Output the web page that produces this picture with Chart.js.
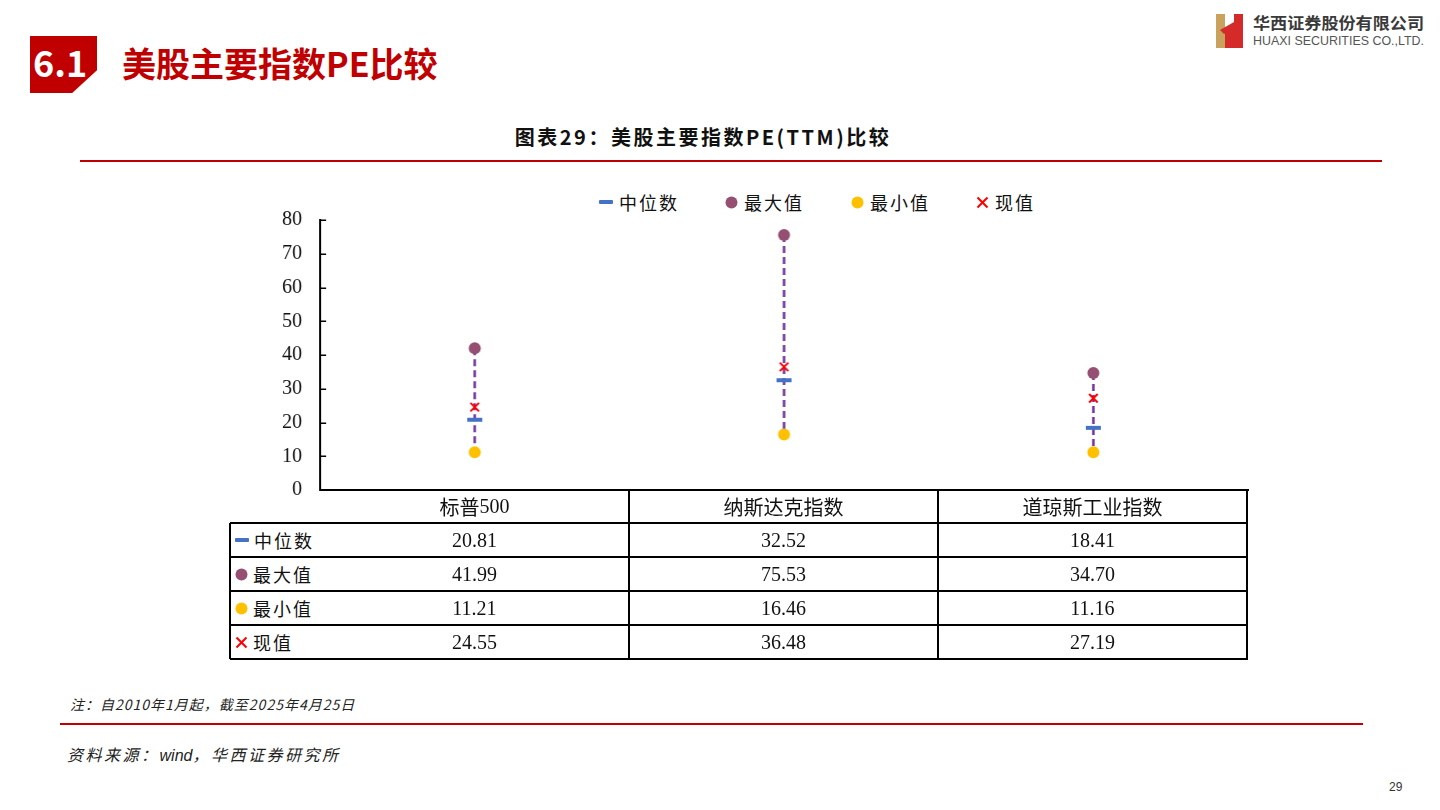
<!DOCTYPE html>
<html><head><meta charset="utf-8">
<script src="https://cdn.jsdelivr.net/npm/chart.js@4.4.0/dist/chart.umd.min.js"></script>
<style>
html,body{margin:0;padding:0;background:#fff;}
body{width:1440px;height:810px;position:relative;overflow:hidden;font-family:"Noto Sans CJK SC","Noto Sans",sans-serif;color:#111;}
.abs{position:absolute;white-space:nowrap;}
.hl{position:absolute;background:#000;height:1.5px;}
.vl{position:absolute;background:#000;width:1.5px;}
.cell{position:absolute;display:flex;align-items:center;justify-content:center;font-family:"Liberation Serif","Noto Sans CJK SC",serif;font-size:20px;color:#111;white-space:nowrap;}
.ser{font-family:"Liberation Serif",serif;}
.lab{position:absolute;display:flex;align-items:center;font-size:18px;letter-spacing:2px;color:#111;white-space:nowrap;}
#box{position:absolute;}
</style></head><body>

<!-- header -->
<div class="abs" style="left:30px;top:36px;width:67px;height:57px;background:#C00000;clip-path:polygon(0 0,100% 0,100% 60%,63% 100%,0 100%);"></div>
<div class="abs" style="left:33px;top:36px;height:50px;line-height:50px;font-size:36px;font-weight:700;color:#fff;">6.1</div>
<div class="abs" style="left:122px;top:38px;height:50px;line-height:50px;font-size:34px;font-weight:700;color:#C00000;">美股主要指数PE比较</div>

<!-- logo -->
<svg class="abs" style="left:1212px;top:8px;" width="220" height="44" viewBox="0 0 220 44">
  <polygon points="4,6 13,6 13,40 4,40" fill="#C9A25E"/>
  <polygon points="13,22 22,17 22,40 13,40" fill="#D42A2A"/>
  <polygon points="22,6 31,6 31,40 22,40" fill="#D42A2A"/>
  <polygon points="8,22 22,14 22,20 12,26" fill="#D42A2A"/>
  <text x="41" y="21" font-family="Noto Sans CJK SC" font-weight="700" font-size="16" fill="#3a3a3a" textLength="171" lengthAdjust="spacingAndGlyphs">华西证券股份有限公司</text>
  <text x="41" y="37" font-family="Liberation Sans" font-size="13" fill="#555" textLength="171" lengthAdjust="spacingAndGlyphs">HUAXI SECURITIES CO.,LTD.</text>
</svg>

<!-- chart title -->
<div class="abs" style="left:403px;width:600px;top:122px;height:30px;line-height:30px;text-align:center;font-size:20px;font-weight:700;letter-spacing:2.5px;color:#111;">图表29：美股主要指数PE(TTM)比较</div>
<div class="abs" style="left:80px;top:160px;width:1302px;height:1.5px;background:#C00000;"></div>

<!-- legend -->
<div id="legend"></div>

<div id="box" style="left:220px;top:208px;width:1027px;height:302px;">
  <canvas id="c"></canvas>
</div>
<div id="table"></div>

<!-- footer -->
<div class="abs" style="left:70px;top:694px;height:20px;line-height:20px;font-size:14px;font-style:italic;letter-spacing:1px;color:#222;">注：自2010年1月起，截至2025年4月25日</div>
<div class="abs" style="left:60px;top:723px;width:1303px;height:1.5px;background:#C00000;"></div>
<div class="abs" style="left:67px;top:743px;height:22px;line-height:22px;font-size:16px;font-style:italic;letter-spacing:2.5px;color:#222;">资料来源：<span style="font-family:'Liberation Sans';letter-spacing:0;">wind</span>，华西证券研究所</div>
<div class="abs" style="left:1389px;top:779px;height:16px;line-height:16px;font-size:12px;font-family:'Liberation Sans';color:#333;">29</div>

<script>
// ---- data ----
const categories = ['标普500', '纳斯达克指数', '道琼斯工业指数'];
const seriesNames = ['中位数', '最大值', '最小值', '现值'];
const medianPE = [20.81, 32.52, 18.41];
const maxPE = [41.99, 75.53, 34.70];
const minPE = [11.21, 16.46, 11.16];
const currentPE = [24.55, 36.48, 27.19];
const yTickValues = [0, 10, 20, 30, 40, 50, 60, 70, 80];

const colors = {median:'#4472C4', max:'#954F72', min:'#FFC000', cur:'#FF0000', range:'#7030A0'};
const pts = arr => arr.map((v, i) => ({x: i, y: v}));

const rangeSets = categories.map((c, i) => ({
  label: 'range' + i,
  data: [{x: i, y: maxPE[i]}, {x: i, y: minPE[i]}],
  showLine: true, borderColor: colors.range, borderWidth: 2.5, borderDash: [7, 4],
  pointRadius: 0, order: 10
}));

const innerTicks = {
  id: 'innerTicks',
  afterDraw(chart) {
    const y = chart.scales.y, ctx = chart.ctx, x0 = chart.chartArea.left;
    ctx.save(); ctx.strokeStyle = '#000'; ctx.lineWidth = 1.5;
    yTickValues.forEach(v => {
      const py = Math.round(y.getPixelForValue(v)) + 0.25;
      ctx.beginPath(); ctx.moveTo(x0, py); ctx.lineTo(x0 + 6, py); ctx.stroke();
    });
    ctx.restore();
  }
};

const canvas = document.getElementById('c');
const box = document.getElementById('box');
const chart = new Chart(canvas, {
  type: 'scatter',
  data: {
    datasets: [
      {label: seriesNames[0], data: pts(medianPE), pointStyle: 'line', pointRadius: 7.5, pointBorderWidth: 4, borderColor: colors.median, backgroundColor: colors.median, order: 1},
      {label: seriesNames[1], data: pts(maxPE), pointStyle: 'circle', pointRadius: 6, pointBorderWidth: 0, borderColor: colors.max, backgroundColor: colors.max, order: 1},
      {label: seriesNames[2], data: pts(minPE), pointStyle: 'circle', pointRadius: 6, pointBorderWidth: 0, borderColor: colors.min, backgroundColor: colors.min, order: 1},
      {label: seriesNames[3], data: pts(currentPE), pointStyle: 'crossRot', pointRadius: 6, pointBorderWidth: 2, borderColor: colors.cur, backgroundColor: colors.cur, order: 0},
      ...rangeSets
    ]
  },
  options: {
    responsive: true, maintainAspectRatio: false, animation: false, events: [],
    layout: {padding: {top: 12, bottom: 20, left: 0, right: 0}},
    plugins: {legend: {display: false}, tooltip: {enabled: false}},
    scales: {
      x: {
        type: 'linear', min: -0.5, max: 2.5,
        ticks: {display: false}, grid: {display: false, drawTicks: false},
        border: {display: true, color: '#000', width: 2},
        afterFit: s => { s.height = 0; }
      },
      y: {
        min: 0, max: 80,
        afterBuildTicks: s => { s.ticks = yTickValues.map(v => ({value: v})); },
        ticks: {color: '#111', padding: 18, font: {family: 'Liberation Serif', size: 20}},
        grid: {display: false, drawTicks: false},
        border: {display: true, color: '#000', width: 2},
        afterFit: s => { s.width = 100; }
      }
    }
  },
  plugins: [innerTicks]
});

// Fit the chart area onto the target plot rectangle of the layout
const target = {l: 320, t: 220, r: 1247, b: 490};
for (let k = 0; k < 3; k++) {
  const rc = canvas.getBoundingClientRect(), ca = chart.chartArea;
  const dl = target.l - (rc.left + ca.left), dt = target.t - (rc.top + ca.top);
  const dw = (target.r - target.l) - (ca.right - ca.left), dh = (target.b - target.t) - (ca.bottom - ca.top);
  if (Math.abs(dl) + Math.abs(dt) + Math.abs(dw) + Math.abs(dh) < 0.5) break;
  box.style.left = (parseFloat(box.style.left) + dl) + 'px';
  box.style.top = (parseFloat(box.style.top) + dt) + 'px';
  box.style.width = (parseFloat(box.style.width) + dw) + 'px';
  box.style.height = (parseFloat(box.style.height) + dh) + 'px';
  chart.resize();
}

// ---- legend (HTML) ----
const markerSvg = k => {
  if (k === 0) return `<svg width="14" height="12"><rect x="0" y="4" width="14" height="4" rx="1" fill="${colors.median}"/></svg>`;
  if (k === 1) return `<svg width="13" height="13"><circle cx="6.5" cy="6.5" r="6" fill="${colors.max}"/></svg>`;
  if (k === 2) return `<svg width="13" height="13"><circle cx="6.5" cy="6.5" r="6" fill="${colors.min}"/></svg>`;
  return `<svg width="13" height="13"><path d="M1.5 1.5L11.5 11.5M11.5 1.5L1.5 11.5" stroke="${colors.cur}" stroke-width="2"/></svg>`;
};
const legendX = [599, 725, 851, 976];
const lg = document.getElementById('legend');
seriesNames.forEach((n, k) => {
  const d = document.createElement('div');
  d.className = 'lab';
  d.style.left = legendX[k] + 'px'; d.style.top = '190px'; d.style.height = '24px';
  d.innerHTML = markerSvg(k) + `<span style="margin-left:6px">${n}</span>`;
  lg.appendChild(d);
});

// ---- data table (HTML aligned to chart scales) ----
const rcv = canvas.getBoundingClientRect();
const offX = rcv.left, offY = rcv.top;
const xs = chart.scales.x, ys = chart.scales.y;
const edges = [-0.5, 0.5, 1.5, 2.5].map(v => offX + xs.getPixelForValue(v));
const y0 = offY + ys.getPixelForValue(0);
const rowTops = [y0, y0 + 33, y0 + 67, y0 + 101, y0 + 135, y0 + 169];
const leftX = 230;
const tb = document.getElementById('table');
const add = (cls, st, html) => { const d = document.createElement('div'); d.className = cls; Object.assign(d.style, st); if (html !== undefined) d.innerHTML = html; tb.appendChild(d); };
const serifDigits = s => s.replace(/([0-9.]+)/g, '<span class="ser">$1</span>');
for (let r = 1; r < rowTops.length; r++) add('hl', {left: leftX + 'px', top: (rowTops[r] - 0.75) + 'px', width: (edges[3] - leftX + 0.75) + 'px'});
add('vl', {left: (leftX - 0.75) + 'px', top: rowTops[1] + 'px', height: (rowTops[5] - rowTops[1]) + 'px'});
edges.forEach((e, i) => { if (i > 0) add('vl', {left: (e - 0.75) + 'px', top: y0 + 'px', height: (rowTops[5] - y0) + 'px'}); });
categories.forEach((c, i) => add('cell', {left: edges[i] + 'px', top: rowTops[0] + 'px', width: (edges[i + 1] - edges[i]) + 'px', height: (rowTops[1] - rowTops[0]) + 'px'}, serifDigits(c)));
const rows = [medianPE, maxPE, minPE, currentPE];
rows.forEach((arr, r) => {
  const top = rowTops[r + 1], h = rowTops[r + 2] - top;
  add('lab', {left: (leftX + 5) + 'px', top: top + 'px', height: h + 'px'}, markerSvg(r) + `<span style="margin-left:5px">${seriesNames[r]}</span>`);
  arr.forEach((v, i) => add('cell', {left: edges[i] + 'px', top: top + 'px', width: (edges[i + 1] - edges[i]) + 'px', height: h + 'px'}, serifDigits(v.toFixed(2))));
});
</script>
</body></html>
